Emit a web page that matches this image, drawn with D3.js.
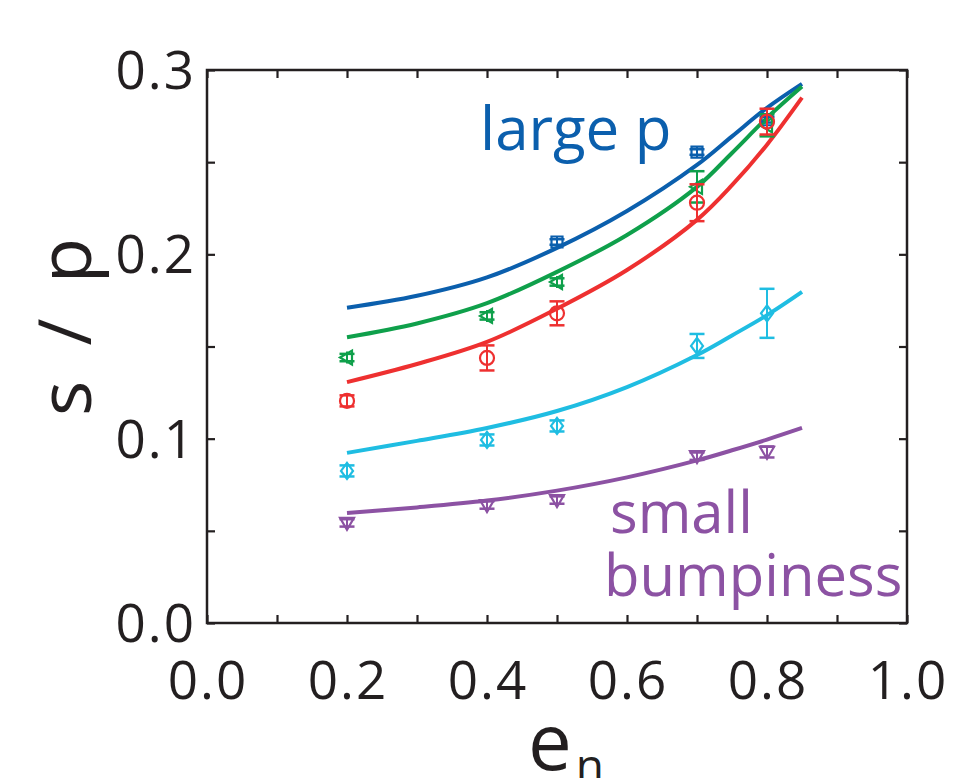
<!DOCTYPE html>
<html>
<head>
<meta charset="utf-8">
<script src="https://cdn.jsdelivr.net/npm/d3@7"></script>
<style>
  body { margin: 0; background: #fff; }
  svg { display: block; }
  text { font-family: "Open Sans", "Noto Sans", sans-serif; }
</style>
</head>
<body>
<div id="chart"></div>
<script>
// data
const xTicks = [0.0, 0.1, 0.2, 0.3, 0.4, 0.5, 0.6, 0.7, 0.8, 0.9, 1.0];
const xTickLabels = ["0.0", "0.2", "0.4", "0.6", "0.8", "1.0"];
const yTicks = [0.0, 0.05, 0.1, 0.15, 0.2, 0.25, 0.3];
const yTickLabels = ["0.0", "0.1", "0.2", "0.3"];

// measured points: [en, value, error]
const bluePoints   = [[0.5, 0.2067, 0.0015], [0.7, 0.2555, 0.0015], [0.8, 0.2730, 0.0015]];
const greenPoints  = [[0.2, 0.1440, 0.002], [0.4, 0.1666, 0.002], [0.5, 0.1850, 0.002], [0.7, 0.2366, 0.0085], [0.8, 0.2700, 0.006]];
const redPoints    = [[0.2, 0.1205, 0.003], [0.4, 0.1438, 0.0068], [0.5, 0.1680, 0.0065], [0.7, 0.2280, 0.010], [0.8, 0.2720, 0.007]];
const cyanPoints   = [[0.2, 0.0825, 0.003], [0.4, 0.0993, 0.003], [0.5, 0.1069, 0.003], [0.7, 0.1503, 0.0065], [0.8, 0.1680, 0.0133]];
const purplePoints = [[0.2, 0.0543, 0.002], [0.4, 0.0640, 0.002], [0.5, 0.0667, 0.002], [0.7, 0.0905, 0.002], [0.8, 0.0928, 0.003]];

// model curves
const curveX      = [0.2, 0.3, 0.4, 0.5, 0.6, 0.7, 0.75, 0.8, 0.85];
const blueCurve   = [0.171, 0.1775, 0.1875, 0.2035, 0.2235, 0.2485, 0.2640, 0.2795, 0.2925];
const greenCurve  = [0.155, 0.1625, 0.1735, 0.1905, 0.2105, 0.2366, 0.2550, 0.2740, 0.2910];
const redCurve    = [0.1307, 0.1405, 0.1525, 0.1705, 0.1915, 0.2187, 0.2375, 0.2595, 0.2850];
const cyanCurve   = [0.0923, 0.0988, 0.1058, 0.1150, 0.1280, 0.1454, 0.1560, 0.1670, 0.1796];
const purpleCurve = [0.0597, 0.0627, 0.0664, 0.0718, 0.0790, 0.0882, 0.0937, 0.0995, 0.1058];

const series = [
    {name: "blue",   color: "#0b5fad", shape: "square",   points: bluePoints,   curve: blueCurve},
    {name: "green",  color: "#0fa04b", shape: "triLeft",  points: greenPoints,  curve: greenCurve},
    {name: "red",    color: "#ee3030", shape: "circle",   points: redPoints,    curve: redCurve},
    {name: "cyan",   color: "#1fbde2", shape: "diamond",  points: cyanPoints,   curve: cyanCurve},
    {name: "purple", color: "#8c52a3", shape: "triDown",  points: purplePoints, curve: purpleCurve}
];

const width = 959, height = 778;
const margin = {left: 207, right: 52, top: 70, bottom: 155};
const ink = "#231f20";

let svg = d3.select("#chart").append("svg")
    .attr("width", width)
    .attr("height", height);

let x = d3.scaleLinear().domain([0, 1]).range([margin.left, width - margin.right]);
let y = d3.scaleLinear().domain([0, 0.3]).range([height - margin.bottom, margin.top]);

// ticks (inward, all four sides)
let tickLen = 8;
function tickAxis(axis, transform){
    svg.append("g")
        .attr("transform", transform)
        .call(axis.tickSizeInner(-tickLen).tickSizeOuter(0).tickFormat(""))
        .call(g => g.select(".domain").remove())
        .selectAll("line").attr("stroke", ink).attr("stroke-width", 2.2);
}
tickAxis(d3.axisBottom(x).tickValues(xTicks), "translate(0," + y(0) + ")");
tickAxis(d3.axisTop(x).tickValues(xTicks), "translate(0," + y(0.3) + ")");
tickAxis(d3.axisLeft(y).tickValues(yTicks), "translate(" + x(0) + ",0)");
tickAxis(d3.axisRight(y).tickValues(yTicks), "translate(" + x(1) + ",0)");

// frame
svg.append("rect")
    .attr("x", x(0)).attr("y", y(0.3))
    .attr("width", x(1) - x(0)).attr("height", y(0) - y(0.3))
    .attr("fill", "none").attr("stroke", ink).attr("stroke-width", 2.5);

// tick labels
svg.append("g").selectAll("text")
    .data(xTickLabels)
    .enter().append("text")
    .attr("x", d => x(+d) + 1)
    .attr("y", 699)
    .attr("text-anchor", "middle")
    .attr("font-size", 53)
    .attr("letter-spacing", 2)
    .attr("fill", ink)
    .text(d => d);
svg.append("g").selectAll("text")
    .data(yTickLabels)
    .enter().append("text")
    .attr("x", 196)
    .attr("y", d => y(+d) + 19)
    .attr("text-anchor", "end")
    .attr("font-size", 53)
    .attr("letter-spacing", 2)
    .attr("fill", ink)
    .text(d => d);

// axis titles
svg.append("text")
    .attr("transform", "translate(91,323) rotate(-90)")
    .attr("text-anchor", "middle")
    .attr("font-size", 74)
    .attr("letter-spacing", 8)
    .attr("fill", ink)
    .text("s / p");
let xt = svg.append("text")
    .attr("x", 566).attr("y", 770)
    .attr("text-anchor", "middle")
    .attr("font-size", 78)
    .attr("fill", ink);
xt.append("tspan").text("e");
xt.append("tspan").attr("font-size", 46).attr("dx", 4).attr("dy", 12).text("n");

// model curves
let line = d3.line()
    .x(function(d){ return x(d[0]); })
    .y(function(d){ return y(d[1]); })
    .curve(d3.curveCatmullRom.alpha(0.5));

svg.append("g").selectAll("path")
    .data(series)
    .enter().append("path")
    .attr("d", d => line(curveX.map((cx, i) => [cx, d.curve[i]])))
    .attr("fill", "none")
    .attr("stroke", d => d.color)
    .attr("stroke-width", 4);

// markers with error bars
function markerPath(shape){
    switch(shape){
        case "square": return "M-5.5,-5.5H5.5V5.5H-5.5Z";
        case "triLeft": return "M-7,0L5,-7V7Z";
        case "circle": return "M-7,0A7,7 0 1,0 7,0A7,7 0 1,0 -7,0Z";
        case "diamond": return "M0,-8L6,0L0,8L-6,0Z";
        case "triDown": return "M-7,-5H7L0,7Z";
    }
}

series.forEach(function(s){
    let g = svg.append("g").attr("class", "pts " + s.name);
    let pts = g.selectAll("g")
        .data(s.points)
        .enter().append("g");
    let capW = 7.5;
    pts.append("line")
        .attr("x1", d => x(d[0])).attr("x2", d => x(d[0]))
        .attr("y1", d => Math.min(y(d[1] + d[2]), y(d[1]) - 6))
        .attr("y2", d => Math.max(y(d[1] - d[2]), y(d[1]) + 6))
        .attr("stroke", s.color).attr("stroke-width", 2);
    pts.append("line")
        .attr("x1", d => x(d[0]) - capW).attr("x2", d => x(d[0]) + capW)
        .attr("y1", d => y(d[1] + d[2])).attr("y2", d => y(d[1] + d[2]))
        .attr("stroke", s.color).attr("stroke-width", 2.5);
    pts.append("line")
        .attr("x1", d => x(d[0]) - capW).attr("x2", d => x(d[0]) + capW)
        .attr("y1", d => y(d[1] - d[2])).attr("y2", d => y(d[1] - d[2]))
        .attr("stroke", s.color).attr("stroke-width", 2.5);
    pts.append("path")
        .attr("d", markerPath(s.shape))
        .attr("transform", d => "translate(" + x(d[0]) + "," + y(d[1]) + ")")
        .attr("fill", "none")
        .attr("stroke", s.color)
        .attr("stroke-width", 2.2);
});

// annotations
svg.append("text")
    .attr("x", 480).attr("y", 150)
    .attr("font-size", 60)
    .attr("fill", "#0b5fad")
    .text("large p");
svg.append("text")
    .attr("x", 610).attr("y", 533)
    .attr("font-size", 58)
    .attr("fill", "#8c52a3")
    .text("small");
svg.append("text")
    .attr("x", 604).attr("y", 596)
    .attr("font-size", 58)
    .attr("fill", "#8c52a3")
    .text("bumpiness");
</script>
</body>
</html>
